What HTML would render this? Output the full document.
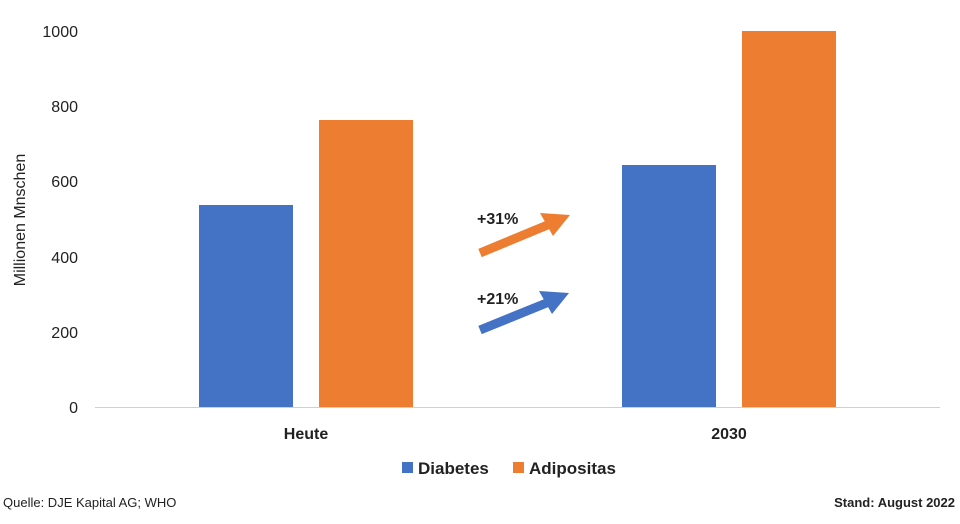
<!DOCTYPE html>
<html><head><meta charset="utf-8"><style>
body{margin:0;background:#fff;width:960px;height:519px;overflow:hidden;font-family:"Liberation Sans",Arial,sans-serif}
</style></head><body>
<svg width="960" height="519" viewBox="0 0 960 519" xmlns="http://www.w3.org/2000/svg" font-family="Liberation Sans, Arial, sans-serif">
<g font-size="16" fill="#222" text-anchor="end">
<text x="78" y="37">1000</text>
<text x="78" y="112">800</text>
<text x="78" y="187">600</text>
<text x="78" y="263">400</text>
<text x="78" y="338">200</text>
<text x="78" y="413">0</text>
</g>
<text transform="translate(25,220) rotate(-90)" font-size="16" fill="#222" text-anchor="middle">Millionen Mnschen</text>
<line x1="95" y1="407.5" x2="940" y2="407.5" stroke="#d0d0d0" stroke-width="1"/>
<rect x="199" y="205" width="94" height="202" fill="#4472c4"/>
<rect x="319" y="120" width="94" height="287" fill="#ed7d31"/>
<rect x="622" y="165" width="94" height="242" fill="#4472c4"/>
<rect x="742" y="31" width="94" height="376" fill="#ed7d31"/>
<g font-size="16" font-weight="bold" fill="#222" text-anchor="middle">
<text x="306" y="439">Heute</text>
<text x="729" y="439">2030</text>
</g>
<line x1="480" y1="253" x2="550" y2="224" stroke="#ed7d31" stroke-width="9"/>
<polygon points="570,215 540,213 553,236" fill="#ed7d31"/>
<line x1="480" y1="330" x2="549" y2="302" stroke="#4472c4" stroke-width="9"/>
<polygon points="569,293 539,291 552,314" fill="#4472c4"/>
<g font-size="16" font-weight="bold" fill="#222">
<text x="477" y="224">+31%</text>
<text x="477" y="304">+21%</text>
</g>
<rect x="402" y="462" width="11" height="11" fill="#4472c4"/>
<text x="418" y="474" font-size="17" font-weight="bold" fill="#222">Diabetes</text>
<rect x="513" y="462" width="11" height="11" fill="#ed7d31"/>
<text x="529" y="474" font-size="17" font-weight="bold" fill="#222">Adipositas</text>
<text x="3" y="507" font-size="13" fill="#222">Quelle: DJE Kapital AG; WHO</text>
<text x="955" y="507" font-size="13" font-weight="bold" fill="#222" text-anchor="end">Stand: August 2022</text>
</svg>
</body></html>
